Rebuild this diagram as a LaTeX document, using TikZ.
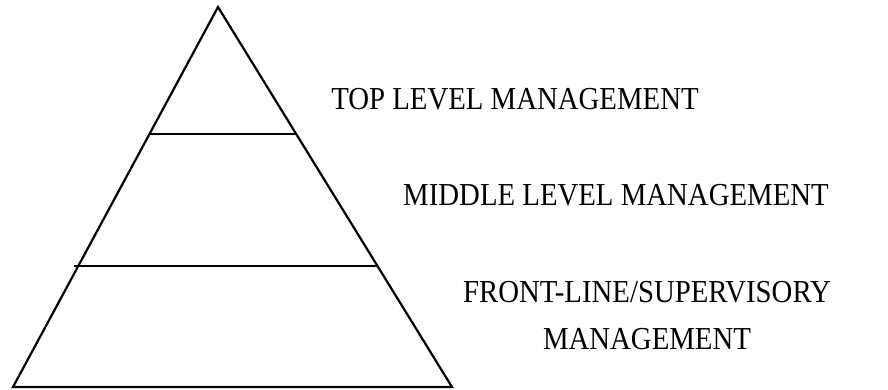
\documentclass[tikz,border=0pt]{standalone}
\usepackage{fontspec}
\setmainfont[FakeStretch=0.9]{Liberation Serif}
\usepackage{tikz}
\usetikzlibrary{calc}

\begin{document}
\begin{tikzpicture}[
    x=1pt, y=-1pt,
    edge/.style={line width=2.2pt, black},
    level/.style={font=\fontsize{32}{47}\selectfont, text=black, anchor=base, align=center, inner sep=0pt}
]
    \useasboundingbox (0, 0) rectangle (888, 389);

    % Pyramid corners
    \coordinate (apex) at (218, 7);
    \coordinate (bl) at (13, 387);
    \coordinate (br) at (452, 387);

    % Pyramid outline
    \draw[edge, line join=miter] (apex) -- (br) -- (bl) -- cycle;

    % Tier dividers
    \coordinate (t1l) at ($(apex)!0.334!(bl)$);
    \coordinate (t1r) at ($(apex)!0.334!(br)$);
    \coordinate (t2l) at ($(apex)!0.682!(bl) + (-4, 0)$);
    \coordinate (t2r) at ($(apex)!0.682!(br)$);
    \draw[edge] (t1l) -- (t1r);
    \draw[edge] (t2l) -- (t2r);

    % Level labels
    \node[level] (top) at (515, 109) {TOP LEVEL MANAGEMENT};
    \node[level] (middle) at (616, 205) {MIDDLE LEVEL MANAGEMENT};
    \node[level] (front) at (647, 349) {FRONT-LINE/SUPERVISORY\\MANAGEMENT};
\end{tikzpicture}
\end{document}
